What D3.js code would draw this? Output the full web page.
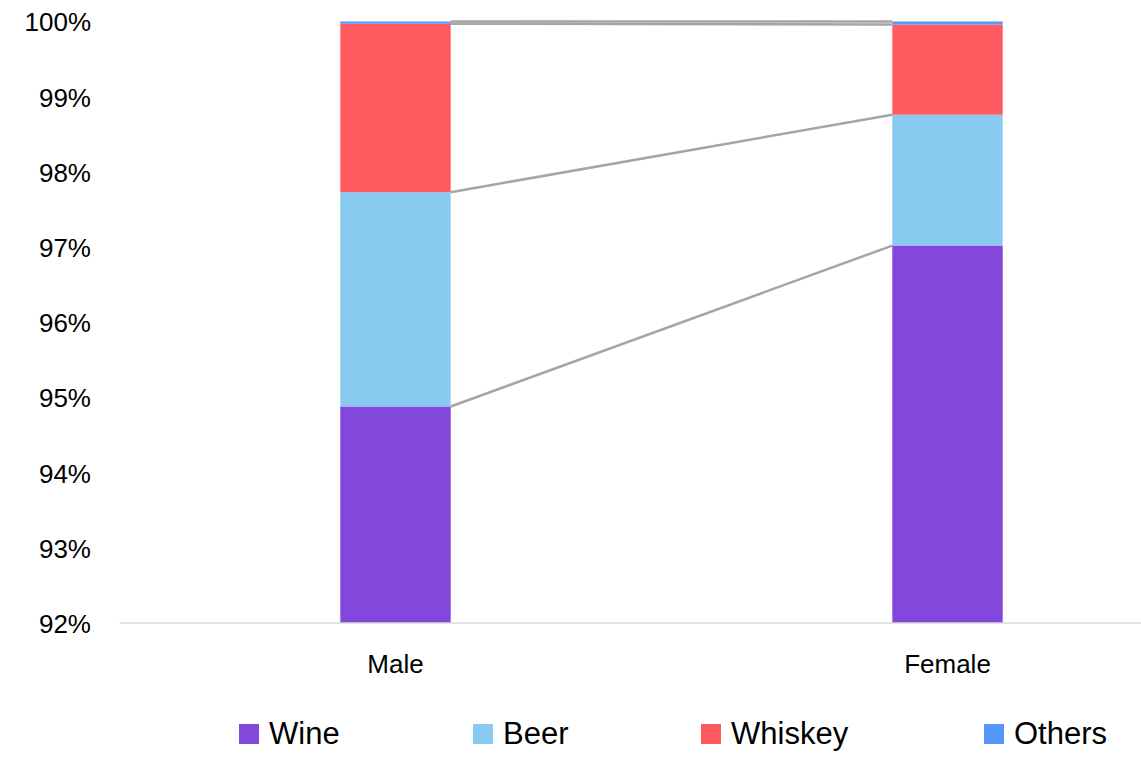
<!DOCTYPE html>
<html>
<head>
<meta charset="utf-8">
<script src="https://cdn.jsdelivr.net/npm/d3@7"></script>
<style>
  html, body { margin: 0; padding: 0; background: #fff; }
  svg { display: block; font-family: "Liberation Sans", Arial, sans-serif; }
</style>
</head>
<body>
<svg id="chart" width="1141" height="757"></svg>
<script>
const categories = ["Male", "Female"];
const seriesNames = ["Wine", "Beer", "Whiskey", "Others"];
const seriesColors = ["#8347DB", "#89CAF0", "#FF5A5F", "#5596F9"];
const wineValues = [94.88, 97.02];
const beerValues = [2.85, 1.74];
const whiskeyValues = [2.24, 1.20];
const othersValues = [0.03, 0.04];
const yTickValues = [92, 93, 94, 95, 96, 97, 98, 99, 100];

const W = 1141, H = 757;
const svg = d3.select("#chart");

const rows = categories.map((c, i) => ({
  cat: c,
  Wine: wineValues[i], Beer: beerValues[i], Whiskey: whiskeyValues[i], Others: othersValues[i]
}));
const stacked = d3.stack().keys(seriesNames)(rows);

const x = d3.scaleBand().domain(categories).range([119.5, 1223.5]).paddingInner(0.8).paddingOuter(0.4);
const y = d3.scaleLinear().domain([92, 100]).range([623, 21.5]);
const color = d3.scaleOrdinal().domain(seriesNames).range(seriesColors);

const clipId = "plotclip";
svg.append("defs").append("clipPath").attr("id", clipId)
  .append("rect").attr("x", 0).attr("y", y(100) - 1).attr("width", W).attr("height", y(92) - y(100) + 1);

// connector lines
const conn = svg.append("g");
stacked.forEach(s => {
  conn.append("line")
    .attr("x1", x("Male") + x.bandwidth())
    .attr("x2", x("Female"))
    .attr("y1", y(Math.min(100, s[0][1])))
    .attr("y2", y(Math.min(100, s[1][1])))
    .attr("stroke", "#A5A5A5")
    .attr("stroke-width", 2.5);
});

// bars
const bars = svg.append("g").attr("clip-path", `url(#${clipId})`);
stacked.forEach(s => {
  bars.selectAll(null).data(s).enter().append("rect")
    .attr("x", d => x(d.data.cat))
    .attr("width", x.bandwidth())
    .attr("y", d => y(Math.min(100, d[1])))
    .attr("height", d => Math.max(0, y(Math.max(92, d[0])) - y(Math.min(100, d[1]))))
    .attr("fill", color(s.key));
});

// baseline
svg.append("line").attr("x1", 119.5).attr("x2", W).attr("y1", y(92)).attr("y2", y(92))
  .attr("stroke", "#D9D9D9").attr("stroke-width", 1.5);

// y axis
const yAxis = d3.axisLeft(y).tickValues(yTickValues).tickFormat(d => d + "%").tickSize(0).tickPadding(0);
const ya = svg.append("g").attr("transform", "translate(91,0)").call(yAxis);
ya.select(".domain").remove();
ya.selectAll("text").attr("font-size", 26).attr("fill", "#000").attr("font-family", "Liberation Sans, Arial, sans-serif").attr("dy", "0.36em");

// x axis
const xAxis = d3.axisBottom(x).tickSize(0).tickPadding(0);
const xa = svg.append("g").attr("transform", "translate(0,653)").call(xAxis);
xa.select(".domain").remove();
xa.selectAll("text").attr("font-size", 26).attr("fill", "#000").attr("font-family", "Liberation Sans, Arial, sans-serif").attr("dy", "0.76em");

// legend
const legendX = [239, 473, 701, 984];
const leg = svg.append("g");
seriesNames.forEach((n, i) => {
  const g = leg.append("g").attr("transform", `translate(${legendX[i]},724)`);
  g.append("rect").attr("width", 20).attr("height", 20).attr("fill", seriesColors[i]);
  g.append("text").attr("x", 30).attr("y", 19.5).attr("font-size", 31).attr("fill", "#000").text(n);
});
</script>
</body>
</html>
